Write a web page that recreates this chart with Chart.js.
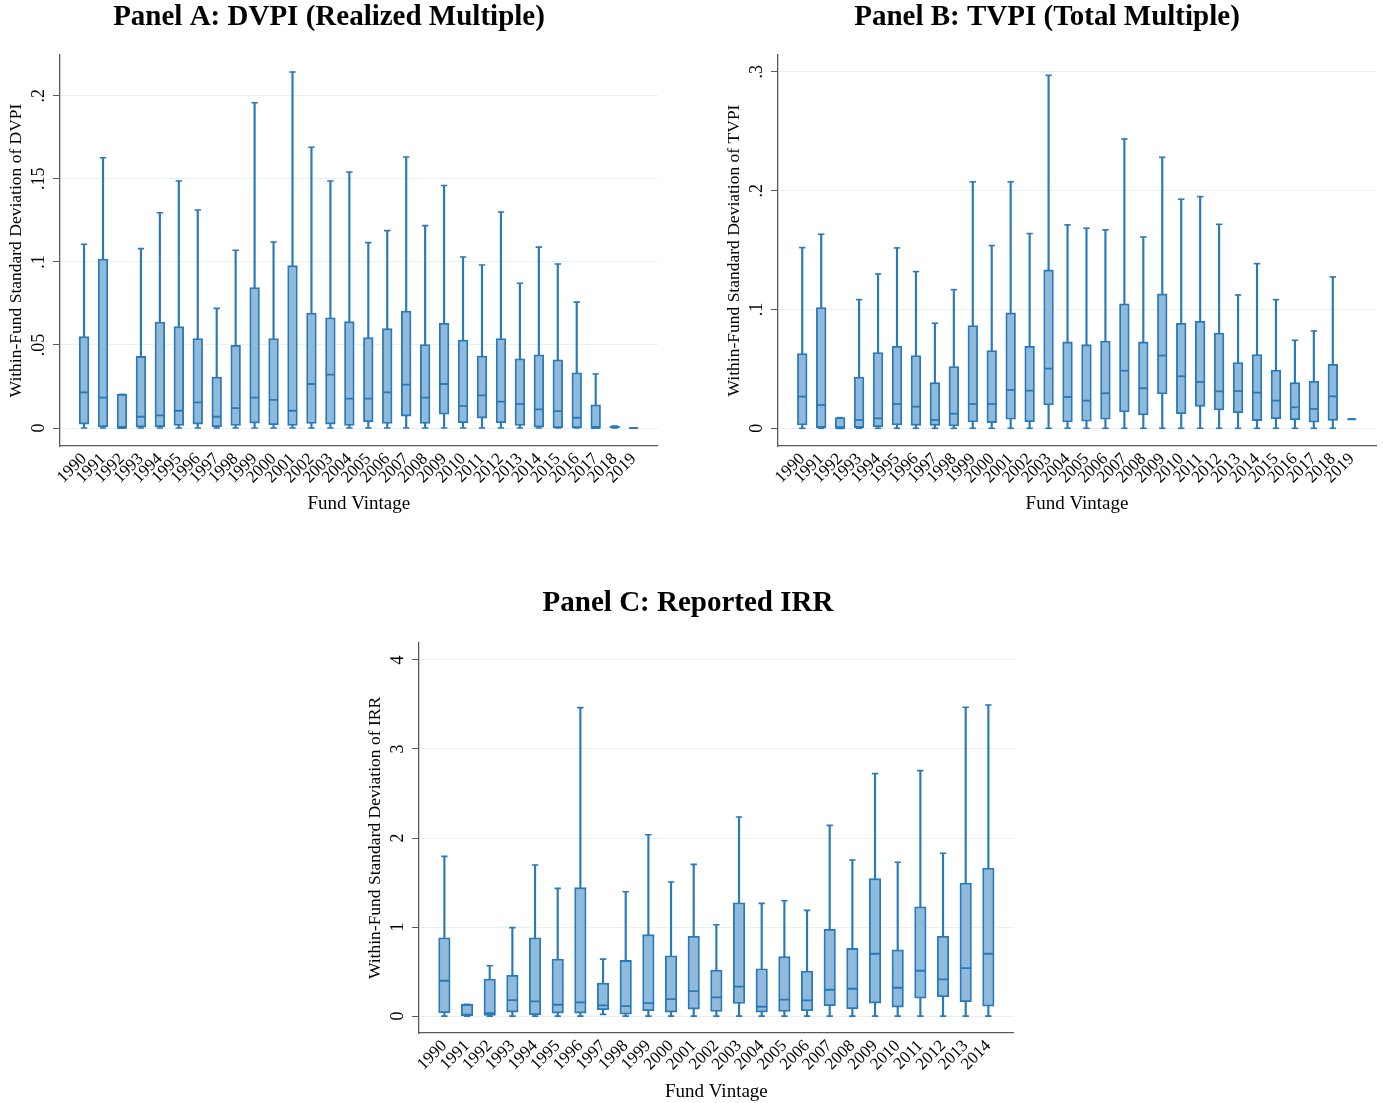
<!DOCTYPE html>
<html>
<head>
<meta charset="utf-8">
<script src="https://cdn.jsdelivr.net/npm/chart.js@4.4.1/dist/chart.umd.min.js"></script>
<style>
  body { margin: 0; background: #fff; width: 1383px; height: 1103px; position: relative; overflow: hidden; }
  canvas { position: absolute; }
</style>
</head>
<body>
<canvas id="panelA" width="664" height="520" style="left:0;top:0"></canvas>
<canvas id="panelB" width="665" height="520" style="left:718px;top:0"></canvas>
<canvas id="panelC" width="662" height="522" style="left:359px;top:586px"></canvas>
<script>
// vintages
const yearsAB = [1990, 1991, 1992, 1993, 1994, 1995, 1996, 1997, 1998, 1999, 2000, 2001, 2002, 2003, 2004,
  2005, 2006, 2007, 2008, 2009, 2010, 2011, 2012, 2013, 2014, 2015, 2016, 2017, 2018, 2019];
const yearsC = [1990, 1991, 1992, 1993, 1994, 1995, 1996, 1997, 1998, 1999, 2000, 2001, 2002, 2003, 2004,
  2005, 2006, 2007, 2008, 2009, 2010, 2011, 2012, 2013, 2014];

// Panel A: DVPI
const dvpiMin = [0, 0, 0, 0, 0, 0, 0, 0, 0, 0, 0, 0, 0, 0, 0, 0, 0, 0, 0, 0, 0, 0, 0, 0, 0, 0, 0, 0, 0, 0];
const dvpiQ1 = [0.0024, 0.0008, 0, 0.0006, 0.0008, 0.0016, 0.0024, 0.0008, 0.0016, 0.003, 0.002, 0.0016, 0.0028, 0.0024, 0.0016,
  0.0038, 0.0028, 0.0072, 0.0028, 0.0084, 0.0032, 0.006, 0.0032, 0.0016, 0.0006, 0.0002, 0.0002, 0, 0, 0];
const dvpiMed = [0.0215, 0.0183, 0, 0.0068, 0.0076, 0.0104, 0.0155, 0.0068, 0.012, 0.0183, 0.0169, 0.0104, 0.0265, 0.0321, 0.0177,
  0.0177, 0.0215, 0.0261, 0.0183, 0.0265, 0.0134, 0.0197, 0.0159, 0.0146, 0.0112, 0.0102, 0.0062, 0, 0.0005, 0];
const dvpiQ3 = [0.055, 0.1017, 0.0203, 0.0431, 0.0638, 0.061, 0.0538, 0.0307, 0.0498, 0.0845, 0.0538, 0.0977, 0.0692, 0.0664, 0.064,
  0.0544, 0.0598, 0.0704, 0.0502, 0.063, 0.053, 0.0433, 0.0538, 0.0417, 0.0441, 0.0411, 0.0333, 0.014, 0.0012, 0];
const dvpiMax = [0.1106, 0.1627, 0.0203, 0.108, 0.1296, 0.1487, 0.1312, 0.072, 0.107, 0.1958, 0.112, 0.2143, 0.169, 0.1487, 0.1541,
  0.1116, 0.1188, 0.1631, 0.1218, 0.146, 0.1029, 0.0981, 0.13, 0.0871, 0.1089, 0.0987, 0.0758, 0.0325, 0.0012, 0];
const dvpiTicks = [0, 0.05, 0.1, 0.15, 0.2];
const dvpiTickLabels = ["0", ".05", ".1", ".15", ".2"];

// Panel B: TVPI
const tvpiMin = [0, 0, 0, 0, 0, 0, 0, 0, 0, 0, 0, 0, 0, 0, 0, 0, 0, 0, 0, 0, 0, 0, 0, 0, 0, 0, 0, 0, 0, 0.0076];
const tvpiQ1 = [0.0028, 0.0006, 0, 0.0006, 0.0014, 0.0028, 0.0025, 0.0025, 0.002, 0.0053, 0.0048, 0.0076, 0.0056, 0.0196, 0.0053,
  0.0059, 0.0076, 0.0137, 0.0112, 0.0289, 0.0123, 0.0185, 0.0154, 0.0132, 0.0065, 0.0081, 0.0073, 0.0051, 0.0067, 0.0076];
const tvpiMed = [0.0267, 0.0196, 0, 0.007, 0.0084, 0.0205, 0.0182, 0.007, 0.0123, 0.0205, 0.0205, 0.0323, 0.0317, 0.0502, 0.0264,
  0.0233, 0.0295, 0.0485, 0.0337, 0.0612, 0.0438, 0.039, 0.0311, 0.0314, 0.03, 0.0233, 0.0177, 0.0163, 0.0269, 0.0076];
const tvpiQ3 = [0.0628, 0.1016, 0.009, 0.0432, 0.0637, 0.069, 0.0612, 0.0384, 0.0519, 0.0864, 0.0654, 0.0971, 0.069, 0.1333, 0.0727,
  0.0704, 0.0735, 0.1047, 0.0727, 0.1131, 0.0883, 0.0901, 0.0802, 0.0553, 0.062, 0.0491, 0.0384, 0.0396, 0.0539, 0.0076];
const tvpiMax = [0.1521, 0.1633, 0.009, 0.1083, 0.1299, 0.1518, 0.1319, 0.0884, 0.1167, 0.2074, 0.1538, 0.2074, 0.1639, 0.2971, 0.1712,
  0.1684, 0.167, 0.2435, 0.161, 0.2281, 0.1928, 0.195, 0.1717, 0.1122, 0.1386, 0.1083, 0.0741, 0.0819, 0.1274, 0.0076];
const tvpiTicks = [0, 0.1, 0.2, 0.3];
const tvpiTickLabels = ["0", ".1", ".2", ".3"];

// Panel C: IRR
const irrMin = [0, 0, 0, 0, 0, 0, 0, 0.019, 0, 0, 0, 0, 0, 0, 0, 0, 0, 0, 0, 0, 0, 0, 0, 0, 0];
const irrQ1 = [0.037, 0, 0.007, 0.045, 0.015, 0.034, 0.034, 0.071, 0.022, 0.06, 0.045, 0.079, 0.052, 0.142, 0.045,
  0.052, 0.06, 0.116, 0.082, 0.146, 0.101, 0.202, 0.217, 0.161, 0.112];
const irrMed = [0.397, 0.015, 0.034, 0.18, 0.165, 0.127, 0.154, 0.12, 0.112, 0.146, 0.191, 0.281, 0.21, 0.33, 0.105,
  0.184, 0.176, 0.296, 0.307, 0.7, 0.318, 0.509, 0.412, 0.539, 0.7];
const irrQ3 = [0.88, 0.131, 0.416, 0.457, 0.88, 0.64, 1.442, 0.371, 0.625, 0.914, 0.678, 0.895, 0.517, 1.273, 0.532,
  0.667, 0.506, 0.974, 0.76, 1.543, 0.745, 1.228, 0.895, 1.494, 1.663];
const irrMax = [1.794, 0.131, 0.566, 0.993, 1.697, 1.434, 3.464, 0.64, 1.397, 2.037, 1.506, 1.704, 1.026, 2.236, 1.266,
  1.296, 1.187, 2.142, 1.753, 2.723, 1.727, 2.757, 1.828, 3.468, 3.494];
const irrTicks = [0, 1, 2, 3, 4];
const irrTickLabels = ["0", "1", "2", "3", "4"];

const SERIF = "'Liberation Serif', 'Times New Roman', serif";
const LINE = "#2a79b8";
const FILL = "#8fbadb";
const GRID = "#e8f0f3";
const AXIS = "#5a5a5a";

function boxPanel(id, o) {
  const pts = (arr) => o.years.map((yr, i) => ({ x: yr, y: arr[i] }));
  const range = (lo, hi) => o.years.map((yr, i) => ({ x: yr, y: [lo[i], hi[i]] }));
  const marker = (arr, r, w) => ({
    type: "line", data: pts(arr), showLine: false, pointStyle: "line",
    pointRadius: r, pointHoverRadius: r, pointBorderWidth: w, pointBorderColor: LINE, order: 0,
  });
  const whisker = (lo, hi) => ({
    data: range(lo, hi), backgroundColor: LINE, borderWidth: 0,
    barThickness: 1.5, grouped: false, order: 2,
  });

  new Chart(document.getElementById(id), {
    type: "bar",
    data: {
      datasets: [
        {
          data: range(o.q1, o.q3), backgroundColor: FILL, borderColor: LINE, borderWidth: 1.8,
          borderSkipped: false, barThickness: o.boxWidth, grouped: false, order: 1,
        },
        whisker(o.q3, o.max),
        whisker(o.min, o.q1),
        marker(o.med, o.boxWidth / 2 - 0.3, 1.8),
        marker(o.max, 3.2, 1.6),
        marker(o.min, 3.2, 1.6),
      ],
    },
    options: {
      responsive: false,
      animation: false,
      devicePixelRatio: 1,
      layout: { padding: { right: o.padRight } },
      plugins: {
        legend: { display: false },
        tooltip: { enabled: false },
        title: {
          display: true, text: o.title, color: "#000",
          font: { family: SERIF, size: 29, weight: "bold" },
          padding: { top: o.titleTop, bottom: o.titleBottom },
        },
      },
      scales: {
        x: {
          type: "linear", min: o.xMin, max: o.xMax, offset: false,
          afterBuildTicks: (axis) => { axis.ticks = o.years.map((v) => ({ value: v })); },
          afterFit: (axis) => { axis.height = o.xHeight; },
          grid: { display: false, drawTicks: false, offset: false },
          border: { display: true, color: AXIS, width: 1.3 },
          ticks: {
            autoSkip: false, minRotation: 45, maxRotation: 45, padding: 3, color: "#000",
            font: { family: SERIF, size: 17 },
            callback: (v) => String(v),
          },
          title: {
            display: true, text: "Fund Vintage", color: "#000",
            font: { family: SERIF, size: 19 }, padding: { top: 0, bottom: 5 },
          },
        },
        y: {
          min: o.yMin, max: o.yMax,
          afterBuildTicks: (axis) => { axis.ticks = o.yTicks.map((v) => ({ value: v })); },
          afterFit: (axis) => { axis.width = 60; },
          grid: { color: GRID, lineWidth: 1, drawTicks: true, tickLength: 7, tickColor: AXIS, tickWidth: 1 },
          border: { display: true, color: AXIS, width: 1.3 },
          ticks: { display: false },
          title: {
            display: true, text: o.yTitle, color: "#000",
            font: { family: SERIF, size: 17.5 }, padding: { top: 6, bottom: 0 },
          },
        },
      },
    },
    plugins: [{
      id: "rotatedYLabels",
      afterDraw(chart) {
        const { ctx, chartArea, scales } = chart;
        ctx.save();
        ctx.font = "18px " + SERIF;
        ctx.fillStyle = "#000";
        ctx.textAlign = "center";
        ctx.textBaseline = "alphabetic";
        o.yTicks.forEach((v, i) => {
          ctx.save();
          ctx.translate(chartArea.left - 16, scales.y.getPixelForValue(v));
          ctx.rotate(-Math.PI / 2);
          ctx.fillText(o.yTickLabels[i], 0, 0);
          ctx.restore();
        });
        ctx.restore();
      },
    }],
  });
}

boxPanel("panelA", {
  title: "Panel A: DVPI (Realized Multiple)",
  yTitle: "Within-Fund Standard Deviation of DVPI",
  years: yearsAB, min: dvpiMin, q1: dvpiQ1, med: dvpiMed, q3: dvpiQ3, max: dvpiMax,
  yTicks: dvpiTicks, yTickLabels: dvpiTickLabels,
  yMin: -0.0108, yMax: 0.2245, xMin: 1988.73, xMax: 2020.27,
  boxWidth: 9.7, padRight: 6, titleTop: 0, titleBottom: 20.2, xHeight: 74,
});

boxPanel("panelB", {
  title: "Panel B: TVPI (Total Multiple)",
  yTitle: "Within-Fund Standard Deviation of TVPI",
  years: yearsAB, min: tvpiMin, q1: tvpiQ1, med: tvpiMed, q3: tvpiQ3, max: tvpiMax,
  yTicks: tvpiTicks, yTickLabels: tvpiTickLabels,
  yMin: -0.0149, yMax: 0.3142, xMin: 1988.72, xMax: 2020.28,
  boxWidth: 9.7, padRight: 7, titleTop: 0, titleBottom: 20.2, xHeight: 74,
});

boxPanel("panelC", {
  title: "Panel C: Reported IRR",
  yTitle: "Within-Fund Standard Deviation of IRR",
  years: yearsC, min: irrMin, q1: irrQ1, med: irrMed, q3: irrQ3, max: irrMax,
  yTicks: irrTicks, yTickLabels: irrTickLabels,
  yMin: -0.19, yMax: 4.19, xMin: 1988.88, xMax: 2015.12,
  boxWidth: 11.5, padRight: 4, titleTop: 0.6, titleBottom: 21.6, xHeight: 75,
});
</script>
</body>
</html>
